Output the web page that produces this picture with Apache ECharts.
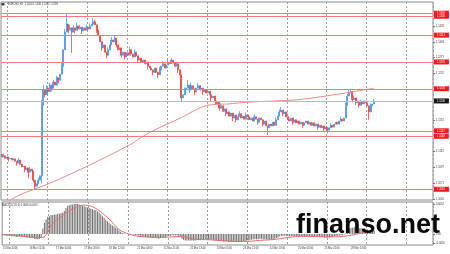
<!DOCTYPE html>
<html><head><meta charset="utf-8">
<script src="https://cdn.jsdelivr.net/npm/echarts@6/dist/echarts.min.js"></script>
<style>html,body{margin:0;padding:0;background:#fff}#c{width:450px;height:254px}</style>
</head><body><div id="c"></div>
<script>
// ---- data (EURUSD, H1) ----
const firstOpen = 1.1118;
const closes = [
1.1114,1.1116,1.1112,1.1114,1.1111,1.1112,1.1109,1.1111,1.1107,1.1104,
1.1109,1.1102,1.1098,1.1099,1.1093,1.1096,1.1089,1.1094,1.1091,1.1076,
1.1066,1.1070,1.1076,1.1083,1.1199,1.1224,1.1216,1.1227,1.1221,1.1232,
1.1227,1.1237,1.1232,1.1244,1.1240,1.1250,1.1263,1.1290,1.1319,1.1332,
1.1322,1.1326,1.1319,1.1326,1.1322,1.1329,1.1324,1.1327,1.1321,1.1326,
1.1322,1.1327,1.1324,1.1329,1.1332,1.1336,1.1331,1.1322,1.1313,1.1303,
1.1293,1.1298,1.1286,1.1281,1.1290,1.1298,1.1306,1.1303,1.1309,1.1298,
1.1290,1.1293,1.1281,1.1286,1.1278,1.1285,1.1281,1.1290,1.1283,1.1278,
1.1286,1.1280,1.1273,1.1276,1.1270,1.1273,1.1267,1.1270,1.1263,1.1260,
1.1257,1.1253,1.1260,1.1253,1.1249,1.1257,1.1263,1.1267,1.1260,1.1265,
1.1270,1.1267,1.1273,1.1268,1.1263,1.1267,1.1257,1.1249,1.1211,1.1216,
1.1224,1.1227,1.1232,1.1224,1.1231,1.1226,1.1221,1.1227,1.1231,1.1224,
1.1227,1.1221,1.1224,1.1219,1.1222,1.1216,1.1211,1.1214,1.1206,1.1201,
1.1204,1.1194,1.1198,1.1189,1.1193,1.1185,1.1188,1.1181,1.1186,1.1178,
1.1183,1.1175,1.1180,1.1185,1.1178,1.1181,1.1176,1.1183,1.1180,1.1175,
1.1178,1.1173,1.1180,1.1176,1.1171,1.1178,1.1175,1.1168,1.1173,1.1165,
1.1162,1.1168,1.1165,1.1171,1.1166,1.1175,1.1181,1.1188,1.1191,1.1185,
1.1188,1.1180,1.1176,1.1173,1.1178,1.1171,1.1175,1.1170,1.1173,1.1168,
1.1171,1.1166,1.1170,1.1173,1.1168,1.1171,1.1166,1.1170,1.1165,1.1168,
1.1163,1.1166,1.1162,1.1165,1.1160,1.1163,1.1158,1.1162,1.1166,1.1163,
1.1168,1.1171,1.1168,1.1173,1.1176,1.1173,1.1178,1.1199,1.1214,1.1219,
1.1221,1.1208,1.1211,1.1203,1.1206,1.1199,1.1204,1.1201,1.1206,1.1203,
1.1198,1.1188,1.1198,1.1201,1.1206
];
const wickHigh = {1:1.1120, 10:1.1112, 17:1.1098, 22:1.1080, 24:1.1208, 25:1.1232, 27:1.1232, 29:1.1236, 31:1.1241,
  33:1.1247, 36:1.1268, 38:1.1324, 39:1.1350, 41:1.1331, 43:1.1330, 45:1.1334, 47:1.1331, 51:1.1331, 53:1.1333,
  55:1.1342, 56:1.1339, 61:1.1302, 64:1.1294, 66:1.1311, 68:1.1313, 77:1.1295, 80:1.1290, 95:1.1262, 97:1.1271,
  100:1.1274, 102:1.1276, 105:1.1270, 110:1.1228, 112:1.1240, 114:1.1236, 118:1.1235, 124:1.1226, 132:1.1202,
  143:1.1189, 147:1.1187, 152:1.1184, 165:1.1179, 167:1.1192, 168:1.1196, 177:1.1174, 198:1.1170, 204:1.1180,
  207:1.1203, 208:1.1218, 209:1.1224, 210:1.1226, 212:1.1215, 216:1.1208, 222:1.1202, 224:1.1209};
const wickLow  = {4:1.1107, 9:1.1100, 14:1.1089, 16:1.1079, 19:1.1072, 20:1.1060, 24:1.1071, 26:1.1212, 30:1.1222,
  34:1.1235, 40:1.1317, 42:1.1285, 44:1.1317, 48:1.1316, 57:1.1318, 60:1.1288, 63:1.1276, 69:1.1294, 72:1.1277,
  74:1.1274, 82:1.1268, 88:1.1258, 91:1.1248, 94:1.1244, 106:1.1252, 108:1.1204, 113:1.1219, 116:1.1216,
  121:1.1216, 126:1.1206, 131:1.1190, 135:1.1181, 139:1.1173, 141:1.1171, 154:1.1167, 157:1.1164, 160:1.1150,
  169:1.1181, 175:1.1167, 181:1.1162, 190:1.1159, 194:1.1156, 196:1.1153, 211:1.1204, 213:1.1199, 215:1.1195,
  221:1.1175};
const maPoints = [[0,1.1035],[11,1.1052],[29,1.1071],[53,1.1101],[77,1.1134],[88,1.1153],[106,1.1176],[124,1.1199],[136,1.1201],[148,1.1204],[178,1.1208],[202,1.1217],[222,1.1226],[224,1.1227]];
const levels = [1.1350, 1.1345, 1.1314, 1.1270, 1.1226, 1.1157, 1.1148, 1.1061];
const priceTicks = [1.1329, 1.1303, 1.1277, 1.1252, 1.1174, 1.1123, 1.1097, 1.1071, 1.1045];
const macdHist = [
-0.0002,-0.0002,-0.0003,-0.0003,-0.0003,-0.0004,-0.0004,-0.0004,-0.0005,-0.0005,
-0.0004,-0.0005,-0.0005,-0.0005,-0.0006,-0.0006,-0.0007,-0.0007,-0.0007,-0.0008,
-0.0009,-0.0009,-0.0008,-0.0007,0.0009,0.0019,0.0025,0.0030,0.0031,0.0033,
0.0033,0.0034,0.0034,0.0035,0.0035,0.0036,0.0037,0.0040,0.0045,0.0049,
0.0050,0.0051,0.0051,0.0052,0.0052,0.0052,0.0051,0.0050,0.0049,0.0048,
0.0047,0.0046,0.0045,0.0044,0.0043,0.0042,0.0041,0.0039,0.0037,0.0034,
0.0031,0.0028,0.0025,0.0022,0.0019,0.0017,0.0015,0.0013,0.0011,0.0009,
0.0006,0.0004,0.0002,0.0001,0.0000,0.0000,-0.0001,0.0000,-0.0001,-0.0001,
-0.0002,-0.0002,-0.0003,-0.0003,-0.0004,-0.0004,-0.0005,-0.0005,-0.0006,-0.0006,
-0.0007,-0.0007,-0.0007,-0.0007,-0.0008,-0.0007,-0.0006,-0.0005,-0.0005,-0.0004,
-0.0003,-0.0003,-0.0002,-0.0002,-0.0002,-0.0002,-0.0003,-0.0004,-0.0008,-0.0010,
-0.0011,-0.0011,-0.0011,-0.0011,-0.0011,-0.0011,-0.0011,-0.0010,-0.0010,-0.0010,
-0.0010,-0.0009,-0.0009,-0.0009,-0.0009,-0.0010,-0.0010,-0.0010,-0.0011,-0.0011,
-0.0012,-0.0012,-0.0012,-0.0013,-0.0013,-0.0013,-0.0014,-0.0014,-0.0014,-0.0014,
-0.0014,-0.0014,-0.0014,-0.0013,-0.0013,-0.0012,-0.0012,-0.0011,-0.0011,-0.0010,
-0.0010,-0.0009,-0.0009,-0.0009,-0.0009,-0.0008,-0.0008,-0.0009,-0.0009,-0.0009,
-0.0010,-0.0010,-0.0009,-0.0009,-0.0008,-0.0007,-0.0006,-0.0004,-0.0003,-0.0003,
-0.0003,-0.0003,-0.0003,-0.0004,-0.0004,-0.0004,-0.0004,-0.0004,-0.0004,-0.0004,
-0.0004,-0.0004,-0.0004,-0.0004,-0.0004,-0.0004,-0.0004,-0.0004,-0.0005,-0.0005,
-0.0005,-0.0005,-0.0005,-0.0005,-0.0006,-0.0006,-0.0006,-0.0006,-0.0005,-0.0005,
-0.0004,-0.0004,-0.0003,-0.0003,-0.0002,-0.0002,-0.0001,0.0002,0.0006,0.0009,
0.0011,0.0011,0.0012,0.0011,0.0011,0.0010,0.0010,0.0009,0.0009,0.0009,
0.0008,0.0006,0.0006,0.0006,0.0006
];
const signalPoints = [[0,-0.0001],[10,-0.0003],[20,-0.0006],[24,-0.0006],[27,0.0004],[30,0.0018],[35,0.0030],[41,0.0042],[48,0.0050],[55,0.0046],[64,0.0026],[70,0.0008],[76,0.0000],[82,-0.0004],[95,-0.0006],[108,-0.0004],[115,-0.0009],[125,-0.0010],[135,-0.0012],[145,-0.0013],[155,-0.0011],[165,-0.0009],[172,-0.0006],[180,-0.0004],[198,-0.0005],[205,-0.0004],[212,-0.0001],[218,0.0003],[224,0.0005]];
const macdTicks = [0.0052, 0, -0.0016];
const timeTickIndex = [0,16,32,49,64,81,97,113,129,145,161,178,194,210];
const timeTickText = ['15 Mar 2016','16 Mar 12:00','17 Mar 04:00','17 Mar 20:00','18 Mar 12:00','21 Mar 04:00','21 Mar 21:00','22 Mar 13:00','23 Mar 05:00','23 Mar 21:00','24 Mar 13:00','25 Mar 05:00','25 Mar 21:00','28 Mar 14:00'];
const dayStarts = [4,28,52,76,100,124,148,172,196,220,244];
const barSlots = 260;
const titleText = 'EURUSD,H1  1.1200 1.1208 1.1192 1.1199';
const macdTitle = 'MACD(12,26,9) 0.0006 0.0005';

// ---- build ----
const categories = Array.from({length: barSlots}, (_, i) => String(i));
const candles = closes.map((c, i) => {
  const o = i === 0 ? firstOpen : closes[i - 1];
  const hi = wickHigh[i] !== undefined ? Math.max(wickHigh[i], o, c) : Math.max(o, c);
  const lo = wickLow[i] !== undefined ? Math.min(wickLow[i], o, c) : Math.min(o, c);
  return [o, c, lo, hi];
});
const labelMap = {};
timeTickIndex.forEach((k, j) => { labelMap[k] = timeTickText[j]; });
const FONT = 'Liberation Sans';
const FS = 2.6;
const gridSplit = {show: true, interval: (i) => dayStarts.indexOf(i) >= 0, lineStyle: {color: '#a0a0a0', type: [2, 2], width: 1}};

const lastClose = closes[closes.length - 1];
const markData = levels.map(v => ({yAxis: v, lineStyle: {color: '#f27c7c', width: 1, type: 'solid'},
  label: {backgroundColor: '#f01c1c', color: '#fff'}}));
markData.push({yAxis: lastClose, lineStyle: {color: '#bcbcbc', width: 1, type: 'solid'},
  label: {backgroundColor: '#161616', color: '#fff'}});

const chart = echarts.init(document.getElementById('c'), null, {renderer: 'canvas'});
chart.setOption({
  animation: false,
  backgroundColor: '#ffffff',
  grid: [
    {left: 1, right: 17, top: 2, height: 198, show: true, borderColor: '#8a8a8a', borderWidth: 1},
    {left: 1, right: 17, top: 202, height: 43, show: true, borderColor: '#8a8a8a', borderWidth: 1}
  ],
  xAxis: [
    {type: 'category', gridIndex: 0, data: categories, boundaryGap: true,
     axisLine: {show: false}, axisTick: {show: false}, axisLabel: {show: false}, splitLine: gridSplit},
    {type: 'category', gridIndex: 1, data: categories, boundaryGap: true,
     axisLine: {show: false}, axisTick: {show: false},
     axisLabel: {show: true, interval: (i) => labelMap[i] !== undefined,
       formatter: (v, i) => labelMap[i] || '', fontSize: FS, color: '#333', align: 'left', margin: 2, fontFamily: FONT},
     splitLine: gridSplit}
  ],
  yAxis: [
    {type: 'value', gridIndex: 0, position: 'right', min: 1.10434, max: 1.13684,
     splitLine: {show: false}, axisLine: {show: false},
     axisTick: {show: true, customValues: priceTicks, length: 2, lineStyle: {color: '#777'}},
     axisLabel: {customValues: priceTicks, formatter: v => v.toFixed(4), fontSize: FS, color: '#333', margin: 3, fontFamily: FONT}},
    {type: 'value', gridIndex: 1, position: 'right', min: -0.0019, max: 0.00555,
     splitLine: {show: false}, axisLine: {show: false},
     axisTick: {show: true, customValues: macdTicks, length: 2, lineStyle: {color: '#777'}},
     axisLabel: {customValues: macdTicks, formatter: v => v === 0 ? '0.00' : v.toFixed(4), fontSize: FS, color: '#333', margin: 3, fontFamily: FONT}}
  ],
  series: [
    {type: 'candlestick', xAxisIndex: 0, yAxisIndex: 0, data: candles, barWidth: 1.5,
     itemStyle: {color: '#4797ee', color0: '#ee4440', borderColor: '#4797ee', borderColor0: '#ee4440', borderWidth: 0.8},
     markLine: {silent: true, symbol: ['none', 'none'], precision: 4, animation: false,
       label: {show: true, position: 'end', distance: 1, formatter: p => Number(p.value).toFixed(4),
         fontSize: FS, fontFamily: FONT, padding: [1, 4, 1, 3]},
       data: markData}},
    {type: 'line', xAxisIndex: 0, yAxisIndex: 0, data: maPoints, showSymbol: false, smooth: 0.3,
     lineStyle: {color: '#f08a8a', width: 1}, silent: true, z: 3},
    {type: 'bar', xAxisIndex: 1, yAxisIndex: 1, data: macdHist, barWidth: 1,
     itemStyle: {color: '#6e6e6e'}, silent: true},
    {type: 'line', xAxisIndex: 1, yAxisIndex: 1, data: signalPoints, showSymbol: false, smooth: 0.4,
     lineStyle: {color: '#f06a6a', width: 1}, silent: true, z: 3}
  ],
  graphic: [
    {type: 'rect', z: 100, shape: {x: 1.5, y: 3, width: 3, height: 2.5}, style: {fill: '#444'}},
    {type: 'text', z: 100, x: 8, y: 4.5, style: {text: titleText, font: FS + 'px "' + FONT + '"', fill: '#333', verticalAlign: 'middle'}},
    {type: 'text', z: 100, x: 2, y: 205, style: {text: macdTitle, font: FS + 'px "' + FONT + '"', fill: '#333', verticalAlign: 'middle'}},
    {type: 'text', z: 100, x: 296, y: 226, style: {text: 'finanso.net', font: 'bold 27px "Liberation Sans"', fill: '#0a0a0a', verticalAlign: 'middle'}}
  ]
});
</script>
</body></html>
